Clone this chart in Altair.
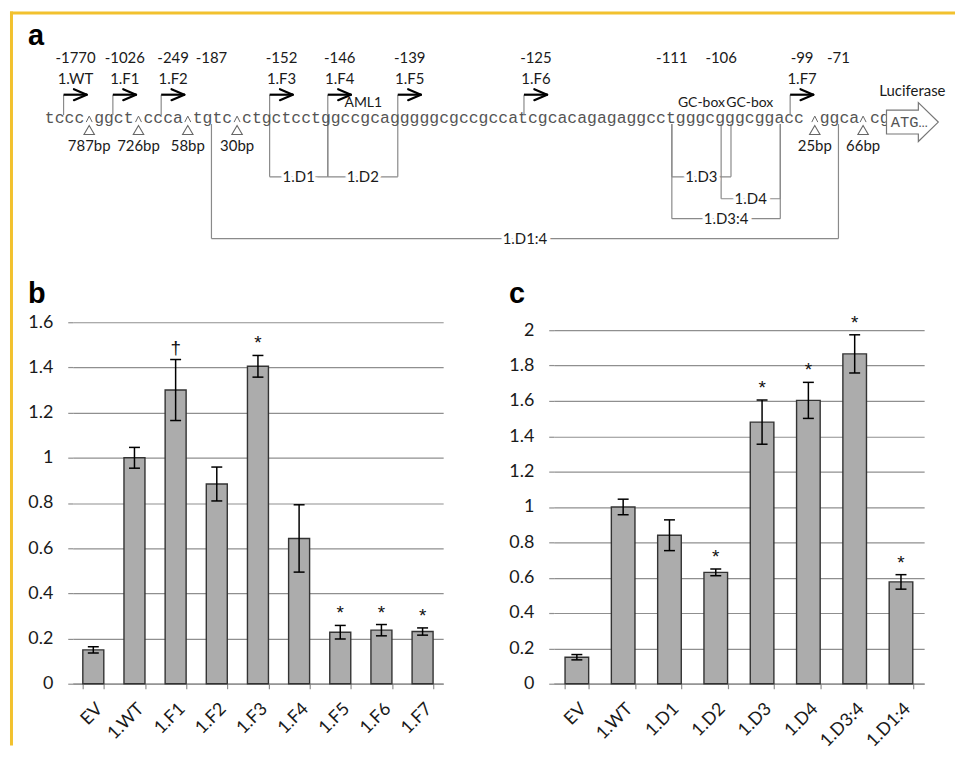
import altair as alt
import pandas as pd

# ---------------- panel b data ----------------
B_CATS = ["EV", "1.WT", "1.F1", "1.F2", "1.F3", "1.F4", "1.F5", "1.F6", "1.F7"]
B_VALS = [0.15, 1.00, 1.30, 0.884, 1.405, 0.643, 0.228, 0.237, 0.231]
B_ERRS = [0.014, 0.046, 0.135, 0.075, 0.048, 0.149, 0.030, 0.025, 0.016]
B_MARKS = ["", "", "\u2020", "", "*", "", "*", "*", "*"]
B_TICKS = [0, 0.2, 0.4, 0.6, 0.8, 1.0, 1.2, 1.4, 1.6]

# ---------------- panel c data ----------------
C_CATS = ["EV", "1.WT", "1.D1", "1.D2", "1.D3", "1.D4", "1.D3:4", "1.D1:4"]
C_VALS = [0.15, 1.00, 0.84, 0.63, 1.48, 1.603, 1.866, 0.576]
C_ERRS = [0.015, 0.044, 0.087, 0.019, 0.125, 0.102, 0.108, 0.041]
C_MARKS = ["", "", "", "*", "*", "*", "*", "*"]
C_TICKS = [0, 0.2, 0.4, 0.6, 0.8, 1.0, 1.2, 1.4, 1.6, 1.8, 2.0]

# ---------------- panel a data (x in sequence character cells) ----------------
SEQ_GROUPS = ["tccc", "ggct", "ccca", "tgtc",
              "ctgctcctggccgcagggggcgccgccatcgcacagagaggcctgggcgggcggacc",
              "ggca", "cg"]
SEQ_STARTS = [0, 5, 10, 15, 20, 78.6, 83.7]
GAP_LABELS = ["787bp", "726bp", "58bp", "30bp", "25bp", "66bp"]
GAP_POS = [4.5, 9.5, 14.5, 19.5, 78.1, 83.0]
PROM_NAMES = ["1.WT", "1.F1", "1.F2", "1.F3", "1.F4", "1.F5", "1.F6", "1.F7"]
PROM_NUMS = ["-1770", "-1026", "-249", "-152", "-146", "-139", "-125", "-99"]
PROM_POS = [1.9, 6.9, 11.8, 22.8, 28.7, 35.8, 48.6, 75.6]
SITE_NUMS = ["-187", "-111", "-106", "-71"]
SITE_POS = [16.9, 63.6, 68.6, 80.5]
DEL_NAMES = ["1.D1", "1.D2", "1.D3", "1.D4", "1.D3:4", "1.D1:4"]
DEL_START = [22.8, 28.7, 63.6, 68.6, 63.6, 16.9]
DEL_END = [28.7, 35.8, 69.6, 74.6, 74.6, 80.5]
DEL_ROW = [1, 1, 1, 2, 3, 4]
MOTIF_LABELS = ["AML1", "GC-box", "GC-box"]
MOTIF_POS = [32.3, 66.6, 71.5]
LUC_LABEL = "Luciferase"
LUC_POS = 88.0
ATG_TEXT = "ATG\u2026"
ATG_POS = 85.8

# ---------------- styles ----------------
FONT = "Lato"
MONO = "Liberation Mono"
BOLD = "Liberation Sans"
GRID = "#8f8f8f"
TXT = "#1a1a1a"
SEQC = "#555555"
LINE = "#8a8a8a"
YELLOW = "#f2c12e"

# layout rows of the diagram (pixels from panel top)
Y_NUM, Y_NAME, Y_ARROW = 47, 68, 83.5
Y_SEQ_TOP, Y_SEQ_BASE, Y_SEQ_BOT = 104, 112, 113
Y_CARET, Y_TRI, Y_BP = 108, 119, 135
Y_MOTIF, Y_LUC, Y_BLOCK, Y_ATG = 92, 80, 111, 116
ROW_Y = {1: 166, 2: 188, 3: 208, 4: 228}
ARROW_LEN, HEAD_LEN, HEAD_HALF = 2.35, 1.3, 5.5

WA, HA = 886, 240
XS = alt.Scale(domain=[28 / 9.9, 914 / 9.9], nice=False, zero=False)
YS = alt.Scale(domain=[0, HA], reverse=True, nice=False, zero=False)


def xq(f):
    return alt.X(f"{f}:Q", scale=XS, axis=None)


def yq(f):
    return alt.Y(f"{f}:Q", scale=YS, axis=None)


def yd(v):
    return alt.YDatum(datum=v, type="quantitative", scale=YS, axis=None)


def y2d(v):
    return alt.Y2Datum(datum=v)


one = pd.DataFrame({"k": [0]})

chars = pd.DataFrame([{"x": st + i + 0.5, "ch": ch}
                      for seg, st in zip(SEQ_GROUPS, SEQ_STARTS)
                      for i, ch in enumerate(seg)])
gaps = pd.DataFrame({"x": GAP_POS, "label": GAP_LABELS})
prom = pd.DataFrame({"x": PROM_POS, "name": PROM_NAMES, "num": PROM_NUMS})
prom["tip"] = prom["x"] + ARROW_LEN
prom["hb"] = prom["tip"] - HEAD_LEN
sites = pd.DataFrame({"x": SITE_POS, "num": SITE_NUMS})
dels = pd.DataFrame({"name": DEL_NAMES, "x1": DEL_START, "x2": DEL_END, "row": DEL_ROW})
dels["y"] = dels["row"].map(ROW_Y)
dels["mid"] = (dels["x1"] + dels["x2"]) / 2
dels["t1"] = [Y_SEQ_TOP if v in PROM_POS else Y_SEQ_BOT for v in dels["x1"]]
dels["t2"] = [Y_SEQ_TOP if v in PROM_POS else Y_SEQ_BOT for v in dels["x2"]]
motifs = pd.DataFrame({"x": MOTIF_POS, "label": MOTIF_LABELS})
luc = pd.DataFrame({"x": [LUC_POS], "label": [LUC_LABEL], "ax": [ATG_POS], "atg": [ATG_TEXT]})

txt15 = dict(font=FONT, fontSize=15, color=TXT, baseline="middle")

layers_a = [
    alt.Chart(one).mark_rule(color=YELLOW, strokeWidth=3).encode(
        x=alt.value(-63), x2=alt.value(WA), y=alt.value(1.5)),
    alt.Chart(one).mark_rule(color=YELLOW, strokeWidth=3).encode(
        x=alt.value(-61.5), y=alt.value(0), y2=alt.value(737)),
    alt.Chart(pd.DataFrame({"t": ["a"]})).mark_text(
        font=BOLD, fontWeight="bold", fontSize=29, align="left", baseline="alphabetic",
        color="black").encode(x=alt.value(-45), y=alt.value(34), text="t:N"),
    # deletion brackets
    alt.Chart(dels).mark_rule(color=LINE, strokeWidth=1.2).encode(
        x=xq("x1"), x2=alt.X2("x2:Q"), y=yq("y")),
    alt.Chart(dels).mark_rule(color=LINE, strokeWidth=1.2).encode(
        x=xq("x1"), y=yq("t1"), y2=alt.Y2("y:Q")),
    alt.Chart(dels).mark_rule(color=LINE, strokeWidth=1.2).encode(
        x=xq("x2"), y=yq("t2"), y2=alt.Y2("y:Q")),
    alt.Chart(dels).mark_text(font=FONT, fontSize=15, fill="white", stroke="white",
                              strokeWidth=7, baseline="middle").encode(
        x=xq("mid"), y=yq("y"), text="name:N"),
    alt.Chart(dels).mark_text(**txt15).encode(x=xq("mid"), y=yq("y"), text="name:N"),
    # sequence
    alt.Chart(chars).mark_text(font=MONO, fontSize=16.5, color=SEQC, baseline="alphabetic").encode(
        x=xq("x"), y=yd(Y_SEQ_BASE), text="ch:N"),
    # gaps
    alt.Chart(gaps).mark_point(shape="M-1,1L0,-1L1,1", size=36, filled=False,
                               color="#666666", strokeWidth=1, opacity=1).encode(
        x=xq("x"), y=yd(Y_CARET)),
    alt.Chart(gaps).mark_point(shape="triangle-up", size=110, filled=False,
                               color="#666666", strokeWidth=1.1, opacity=1).encode(
        x=xq("x"), y=yd(Y_TRI)),
    alt.Chart(gaps).mark_text(**txt15).encode(x=xq("x"), y=yd(Y_BP), text="label:N"),
    # promoter arrows
    alt.Chart(prom).mark_rule(color=LINE, strokeWidth=1.2).encode(
        x=xq("x"), y=yd(Y_ARROW), y2=y2d(Y_SEQ_TOP)),
    alt.Chart(prom).mark_rule(color="black", strokeWidth=2.2).encode(
        x=xq("x"), x2=alt.X2("tip:Q"), y=yd(Y_ARROW)),
    alt.Chart(prom).mark_rule(color="black", strokeWidth=2.2, strokeCap="round").encode(
        x=xq("hb"), x2=alt.X2("tip:Q"), y=yd(Y_ARROW - HEAD_HALF), y2=y2d(Y_ARROW)),
    alt.Chart(prom).mark_rule(color="black", strokeWidth=2.2, strokeCap="round").encode(
        x=xq("hb"), x2=alt.X2("tip:Q"), y=yd(Y_ARROW + HEAD_HALF), y2=y2d(Y_ARROW)),
    alt.Chart(prom).mark_text(dx=12, **txt15).encode(x=xq("x"), y=yd(Y_NAME), text="name:N"),
    alt.Chart(prom).mark_text(dx=12, **txt15).encode(x=xq("x"), y=yd(Y_NUM), text="num:N"),
    alt.Chart(sites).mark_text(**txt15).encode(x=xq("x"), y=yd(Y_NUM), text="num:N"),
    # motifs
    alt.Chart(motifs).mark_text(font=FONT, fontSize=14, color=TXT, baseline="middle").encode(
        x=xq("x"), y=yd(Y_MOTIF), text="label:N"),
    # luciferase
    alt.Chart(luc).mark_point(shape="M-1,-0.46L0.23,-0.46L0.23,-0.75L1,0L0.23,0.75L0.23,0.46L-1,0.46Z",
                              size=2704, filled=True, fill="white", stroke="#777777",
                              strokeWidth=1.2, opacity=1).encode(x=xq("x"), y=yd(Y_BLOCK)),
    alt.Chart(luc).mark_text(font=MONO, fontSize=15.5, color=SEQC, align="left",
                             baseline="alphabetic").encode(x=xq("ax"), y=yd(Y_ATG), text="atg:N"),
    alt.Chart(luc).mark_text(**txt15).encode(x=xq("x"), y=yd(Y_LUC), text="label:N"),
]
panel_a = alt.layer(*layers_a).properties(width=WA, height=HA)


def bar_panel(cats, vals, errs, marks, ticks, dom_max, letter):
    df = pd.DataFrame({"cat": cats, "val": vals, "err": errs, "mark": marks})
    df["lo"] = df["val"] - df["err"]
    df["hi"] = df["val"] + df["err"]
    xaxis = alt.Axis(labelAngle=-45, tickBand="extent", labelFont=FONT, labelFontSize=18,
                     labelColor=TXT, tickColor=GRID, domainColor=GRID, domainWidth=1.2,
                     tickWidth=1.2, tickSize=5, labelPadding=11, labelOverlap=False, grid=False)
    yaxis = alt.Axis(values=ticks, format=".1~f", grid=True, gridColor=GRID, gridWidth=1.2,
                     tickColor=GRID, tickWidth=1.2, tickSize=5, domain=False, labelFont=FONT,
                     labelFontSize=18, labelColor=TXT, labelPadding=15)
    xsc = alt.Scale(paddingInner=0.49, paddingOuter=0.245)
    ysc = alt.Scale(domain=[0, dom_max], nice=False, zero=True)

    def X():
        return alt.X("cat:N", sort=cats, title=None, scale=xsc, axis=xaxis)

    def Y(f):
        return alt.Y(f"{f}:Q", title=None, scale=ysc, axis=yaxis)

    base = alt.Chart(df)
    bars = base.mark_bar(fill="#acacac", stroke="#333333", strokeWidth=1.4).encode(x=X(), y=Y("val"))
    err = base.mark_rule(color="black", strokeWidth=1.5).encode(x=X(), y=Y("lo"), y2=alt.Y2("hi:Q"))
    cap_lo = base.mark_tick(color="black", thickness=1.5, size=11, opacity=1).encode(x=X(), y=Y("lo"))
    cap_hi = base.mark_tick(color="black", thickness=1.5, size=11, opacity=1).encode(x=X(), y=Y("hi"))
    stars = base.mark_text(font=BOLD, fontSize=19, color="#111111", baseline="alphabetic", dy=-6).encode(
        x=X(), y=Y("hi"), text="mark:N")
    lab = alt.Chart(pd.DataFrame({"t": [letter]})).mark_text(
        font=BOLD, fontWeight="bold", fontSize=29, align="left", baseline="alphabetic",
        color="black").encode(x=alt.value(-45), y=alt.value(-19), text="t:N")
    return alt.layer(bars, err, cap_lo, cap_hi, stars, lab).properties(width=372, height=363)


panel_b = bar_panel(B_CATS, B_VALS, B_ERRS, B_MARKS, B_TICKS, 1.6, "b")
panel_c = bar_panel(C_CATS, C_VALS, C_ERRS, C_MARKS, C_TICKS, 2.0 * 363 / 355, "c")

row = alt.hconcat(panel_b, panel_c, spacing=111, bounds="flush")
chart = alt.vconcat(panel_a, row, spacing=72, bounds="flush").properties(
    padding=0, background="white"
).configure(font=FONT).configure_view(stroke=None)

chart.save("out.html", embed_options={"renderer": "svg", "actions": False})
